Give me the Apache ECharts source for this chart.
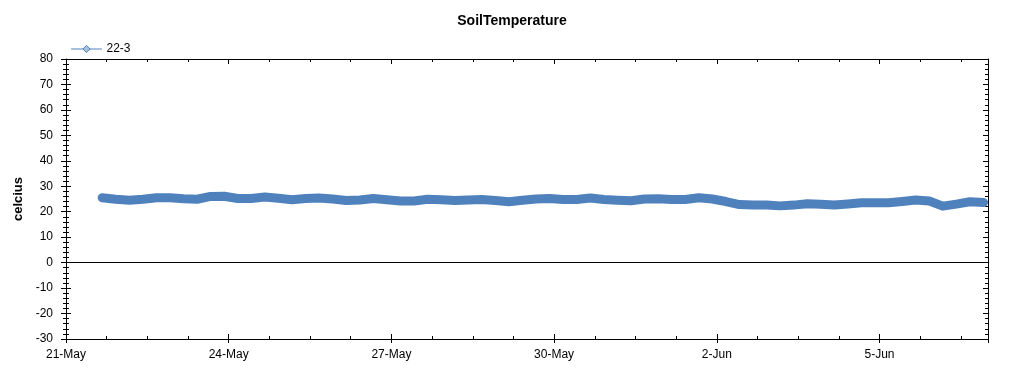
<!DOCTYPE html>
<html>
<head>
<meta charset="utf-8">
<script src="https://cdn.jsdelivr.net/npm/echarts@6/dist/echarts.min.js"></script>
<style>
html,body{margin:0;padding:0;background:#fff;}
#chart{width:1024px;height:375px;}
</style>
</head>
<body>
<div id="chart"></div>
<script>
// Tick labels on the x axis (one every 3 days starting at 21-May)
var xTickLabels = ['21-May', '24-May', '27-May', '30-May', '2-Jun', '5-Jun'];
// Sample times: hours after 21-May 00:00 (first reading 16:00, every 6 h)
var startHour = 16;
var stepHours = 6;
// Series "22-3" soil temperature (celcius)
var values223 = [
  25.5, 24.9, 24.5, 24.9, 25.5, 25.5, 25.1, 24.9, 26.0, 26.1,
  25.2, 25.2, 25.8, 25.3, 24.7, 25.2, 25.4, 25.0, 24.4, 24.6,
  25.2, 24.7, 24.2, 24.2, 24.9, 24.7, 24.4, 24.6, 24.8, 24.4,
  23.9, 24.5, 25.0, 25.2, 24.8, 24.8, 25.4, 24.8, 24.5, 24.3,
  25.0, 25.1, 24.8, 24.8, 25.5, 25.0, 24.0, 22.8, 22.6, 22.6,
  22.3, 22.6, 23.1, 22.9, 22.6, 23.0, 23.5, 23.5, 23.5, 24.0,
  24.6, 24.2, 22.2, 23.0, 23.9, 23.6
];

var seriesData = values223.map(function (v, i) {
  return [(startHour + stepHours * i) / 24, v];
});

var FONT = 'Arial, "Liberation Sans", sans-serif';
var xMin = 0, xMax = 17;
var yMin = -30, yMax = 80;

function hiddenX(pos, interval, len, inside) {
  return {
    type: 'value', position: pos, min: xMin, max: xMax, interval: interval,
    axisLine: { show: false, onZero: false }, splitLine: { show: false },
    axisLabel: { show: false },
    axisTick: { show: true, inside: inside, length: len, lineStyle: { color: '#000', width: 1 } }
  };
}
function hiddenY(pos, inside) {
  return {
    type: 'value', position: pos, min: yMin, max: yMax, interval: 10,
    axisLine: { show: pos === 'right', onZero: false, lineStyle: { color: '#000', width: 1 } },
    splitLine: { show: false }, axisLabel: { show: false },
    axisTick: { show: true, inside: inside, length: 5, lineStyle: { color: '#000' } },
    minorTick: { show: true, splitNumber: 5, length: 3, lineStyle: { color: '#000' } }
  };
}

var chart = echarts.init(document.getElementById('chart'), null, { renderer: 'canvas' });
chart.setOption({
  animation: false,
  backgroundColor: '#fff',
  textStyle: { fontFamily: FONT },
  title: {
    text: 'SoilTemperature', left: 'center', top: 9,
    textStyle: { fontFamily: FONT, fontSize: 14, fontWeight: 'bold', color: '#000' }
  },
  legend: {
    left: 66, top: 38, itemWidth: 30, itemHeight: 9, itemGap: 10,
    textStyle: { fontFamily: FONT, fontSize: 12, color: '#000' },
    lineStyle: { width: 1, color: '#4F81BD' },
    itemStyle: { color: '#A7BFDB', borderColor: '#4F81BD', borderWidth: 1 }
  },
  grid: { left: 66, right: 36, top: 59, bottom: 36, show: false },
  xAxis: [
    {
      type: 'value', position: 'bottom', min: xMin, max: xMax, interval: 3,
      axisLine: { show: true, onZero: false, lineStyle: { color: '#000', width: 1 } },
      splitLine: { show: false },
      axisTick: { show: true, inside: true, length: 5, lineStyle: { color: '#000' } },
      axisLabel: {
        margin: 10, color: '#000', fontFamily: FONT, fontSize: 12,
        showMaxLabel: false,
        formatter: function (v) {
          var k = Math.round(v / 3);
          return (Math.abs(v - k * 3) < 1e-6 && xTickLabels[k] !== undefined) ? xTickLabels[k] : '';
        }
      }
    },
    hiddenX('bottom', 3, 4, false),
    hiddenX('bottom', 0.75, 3, true),
    Object.assign(hiddenX('top', 3, 5, true), { axisLine: { show: true, onZero: false, lineStyle: { color: '#000', width: 1 } } }),
    hiddenX('top', 0.75, 3, true)
  ],
  yAxis: [
    {
      type: 'value', position: 'left', min: yMin, max: yMax, interval: 10,
      name: 'celcius', nameLocation: 'middle', nameGap: 41,
      nameTextStyle: { fontFamily: FONT, fontSize: 13, fontWeight: 'bold', color: '#000' },
      axisLine: { show: true, onZero: false, lineStyle: { color: '#000', width: 1 } },
      splitLine: { show: false },
      axisTick: { show: true, inside: false, length: 5, lineStyle: { color: '#000' } },
      minorTick: { show: true, splitNumber: 5, length: 3, lineStyle: { color: '#000' } },
      axisLabel: { margin: 13, color: '#000', fontFamily: FONT, fontSize: 12 }
    },
    hiddenY('left', true),
    hiddenY('right', true)
  ],
  series: [{
    name: '22-3', type: 'line', xAxisIndex: 0, yAxisIndex: 0,
    data: seriesData,
    symbol: 'diamond', symbolSize: 8, showSymbol: false,
    lineStyle: { color: '#4F81BD', width: 9, cap: 'round', join: 'round' },
    itemStyle: { color: '#A7BFDB', borderColor: '#4F81BD' },
    markLine: {
      silent: true, symbol: 'none', label: { show: false },
      lineStyle: { color: '#000', width: 1, type: 'solid' },
      data: [{ yAxis: 0 }]
    },
    z: 3
  }]
});
</script>
</body>
</html>
